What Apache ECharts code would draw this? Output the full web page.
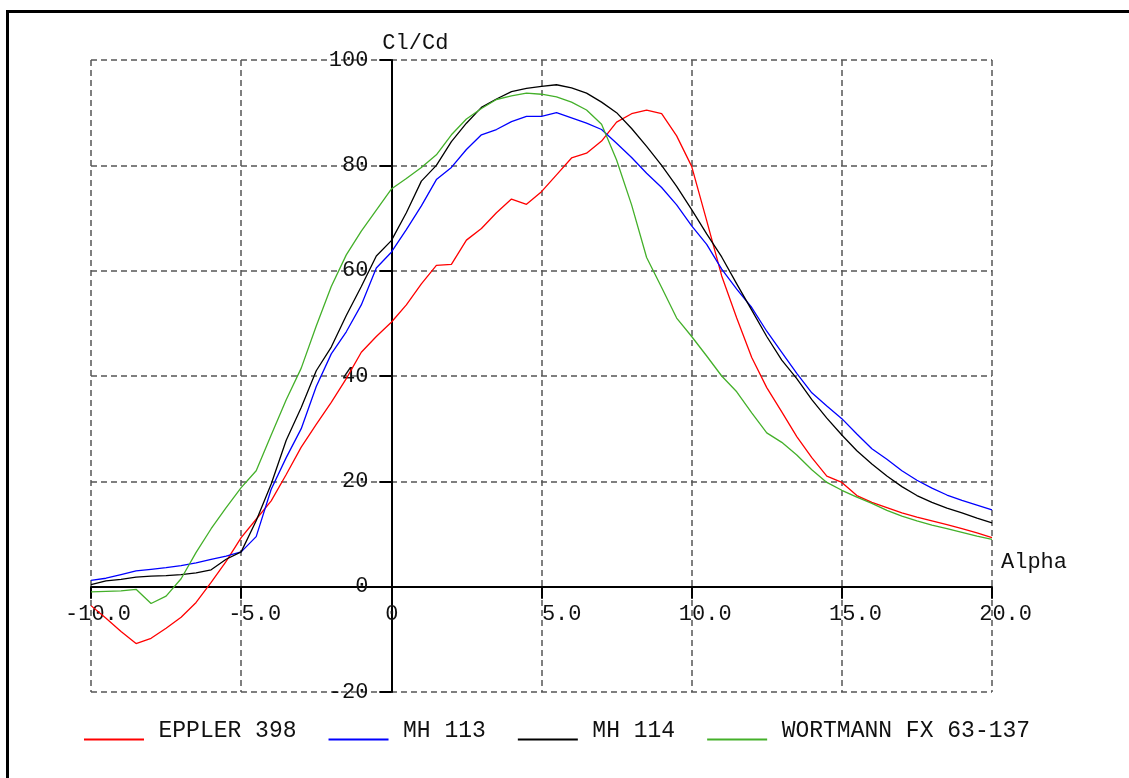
<!DOCTYPE html>
<html>
<head>
<meta charset="utf-8">
<script src="https://cdn.jsdelivr.net/npm/echarts@6/dist/echarts.min.js"></script>
<style>
html,body{margin:0;padding:0;background:#fff;}
#chart{width:1129px;height:778px;}
</style>
</head>
<body>
<div id="chart"></div>
<script>
const ALPHA = [-10,-9.5,-9,-8.5,-8,-7.5,-7,-6.5,-6,-5.5,-5,-4.5,-4,-3.5,-3,-2.5,-2,-1.5,-1,-0.5,0,0.5,1,1.5,2,2.5,3,3.5,4,4.5,5,5.5,6,6.5,7,7.5,8,8.5,9,9.5,10,10.5,11,11.5,12,12.5,13,13.5,14,14.5,15,15.5,16,16.5,17,17.5,18,18.5,19,19.5,20];

const EPPLER_398 = [-3.6,-6.0,-8.5,-10.8,-9.8,-7.9,-5.8,-3.0,0.8,4.8,9.3,12.8,16.3,21.3,26.5,30.8,35.0,39.5,44.5,47.5,50.2,53.5,57.5,61.0,61.2,65.8,68.0,71.0,73.6,72.6,75.0,78.2,81.4,82.3,84.6,88.2,89.8,90.5,89.8,85.6,79.8,69.5,59.0,51.0,43.5,37.8,33.2,28.5,24.5,21.0,19.8,17.3,16.0,15.0,14.0,13.2,12.5,11.8,11.0,10.2,9.3];

const MH_113 = [1.2,1.6,2.3,3.0,3.3,3.6,4.0,4.5,5.2,5.8,6.6,9.5,18.5,24.5,30.0,38.0,44.2,48.4,53.5,60.5,63.5,67.8,72.3,77.3,79.6,83.0,85.8,86.8,88.3,89.3,89.3,90.0,89.0,88.0,86.8,84.2,81.5,78.5,75.8,72.5,68.5,65.0,60.3,56.5,53.0,48.5,44.5,40.5,36.8,34.3,31.9,29.0,26.2,24.2,22.0,20.2,18.7,17.4,16.4,15.5,14.6];

const MH_114 = [0.4,1.1,1.4,1.8,2.0,2.1,2.3,2.6,3.2,5.2,6.6,12.5,19.5,27.8,34.0,41.0,45.5,51.5,57.0,62.8,65.7,71.0,77.0,80.0,84.5,88.0,91.0,92.6,94.0,94.6,95.0,95.3,94.7,93.7,92.0,90.0,87.0,83.6,80.0,76.0,71.6,67.0,62.6,57.5,52.5,47.5,43.0,39.5,35.5,32.0,28.8,25.8,23.3,21.0,19.0,17.3,16.0,14.9,14.0,13.0,12.1];

const WORTMANN = [-1.0,-0.9,-0.8,-0.5,-3.2,-1.8,1.5,6.5,11.0,15.0,18.8,22.0,28.8,35.5,41.5,49.5,57.0,63.0,67.5,71.5,75.5,77.5,79.6,82.0,85.8,88.8,90.8,92.5,93.2,93.7,93.5,93.0,92.0,90.5,87.8,81.0,72.5,62.5,56.8,51.0,47.5,43.8,40.0,37.0,33.0,29.2,27.4,25.0,22.2,19.8,18.3,17.0,15.8,14.5,13.4,12.5,11.7,11.0,10.3,9.6,9.0];

const SERIES_NAMES = ['EPPLER 398','MH 113','MH 114','WORTMANN FX 63-137'];
const SERIES_VALUES = [EPPLER_398, MH_113, MH_114, WORTMANN];
const SERIES_COLORS = ['#ff0000','#0000ff','#000000','#44b02a'];

const X_NAME = 'Alpha';
const Y_NAME = 'Cl/Cd';
const X_MIN = -10, X_MAX = 20, X_STEP = 5;
const Y_MIN = -20, Y_MAX = 100, Y_STEP = 20;

const FONT = 'Liberation Mono';
const FS = 22;
const W = 1129, H = 778;
const G = {left: 91, right: 137, top: 60, bottom: 86};
const gridW = W - G.left - G.right;
const gridH = H - G.top - G.bottom;
// axes cross at zero: shift them from the grid edge to the zero position
const xAxisOffset = -gridH * (0 - Y_MIN) / (Y_MAX - Y_MIN);
const yAxisOffset = -gridW * (0 - X_MIN) / (X_MAX - X_MIN);

const chart = echarts.init(document.getElementById('chart'), null, {renderer:'canvas'});

const legendIcon = 'path://M0,0L1,0L0,0ZM0,18L60,18L60,20L0,20Z';

const option = {
  backgroundColor: '#ffffff',
  animation: false,
  graphic: [{
    type: 'rect',
    left: 5, top: 9,
    shape: {width: 1300, height: 1000},
    style: {fill: 'none', stroke: '#000', lineWidth: 3},
    silent: true, z: 100
  }],
  grid: {left: G.left, right: G.right, top: G.top, bottom: G.bottom, containLabel: false},
  legend: {
    left: 79, top: 714,
    itemWidth: 63, itemHeight: 20, itemGap: 32,
    icon: legendIcon,
    data: SERIES_NAMES,
    textStyle: {fontFamily: FONT, fontSize: 23, color: '#111', padding: [0,0,0,8]}
  },
  xAxis: {
    type: 'value', min: X_MIN, max: X_MAX, interval: X_STEP,
    position: 'bottom', offset: xAxisOffset,
    name: X_NAME, nameLocation: 'end', nameGap: 9,
    nameTextStyle: {fontFamily: FONT, fontSize: FS, color: '#111', align: 'left', verticalAlign: 'bottom', padding: [0,0,13,0]},
    axisLine: {onZero: false, lineStyle: {color: '#000', width: 2}},
    axisTick: {show: true, inside: false, length: 12, lineStyle: {color: '#000', width: 2}},
    axisLabel: {
      margin: 17,
      align: 'right',
      padding: [0, -40, 0, 0],
      formatter: v => v === 0 ? '{z|0}' : '{n|' + v.toFixed(1) + '}',
      rich: {
        z: {fontFamily: FONT, fontSize: FS, color: '#111', padding: [0, 33, 0, 0]},
        n: {fontFamily: FONT, fontSize: FS, color: '#111'}
      },
      fontFamily: FONT, fontSize: FS, color: '#111'
    },
    splitLine: {show: true, lineStyle: {color: '#555', type: [6,4], width: 1.5}}
  },
  yAxis: {
    type: 'value', min: Y_MIN, max: Y_MAX, interval: Y_STEP,
    position: 'left', offset: yAxisOffset,
    name: Y_NAME, nameLocation: 'end', nameGap: 6,
    nameTextStyle: {fontFamily: FONT, fontSize: FS, color: '#111', align: 'left', padding: [0,0,0,-9]},
    axisLine: {onZero: false, lineStyle: {color: '#000', width: 2}},
    axisTick: {show: true, inside: false, length: 12, lineStyle: {color: '#000', width: 2}},
    axisLabel: {margin: 23, fontFamily: FONT, fontSize: FS, color: '#111'},
    splitLine: {show: true, lineStyle: {color: '#555', type: [6,4], width: 1.5}}
  },
  series: SERIES_NAMES.map((name, k) => ({
    name: name,
    type: 'line',
    showSymbol: false,
    symbol: 'none',
    smooth: false,
    color: SERIES_COLORS[k],
    lineStyle: {width: 1.3, color: SERIES_COLORS[k]},
    data: ALPHA.map((a, i) => [a, SERIES_VALUES[k][i]])
  }))
};
chart.setOption(option);
</script>
</body>
</html>
